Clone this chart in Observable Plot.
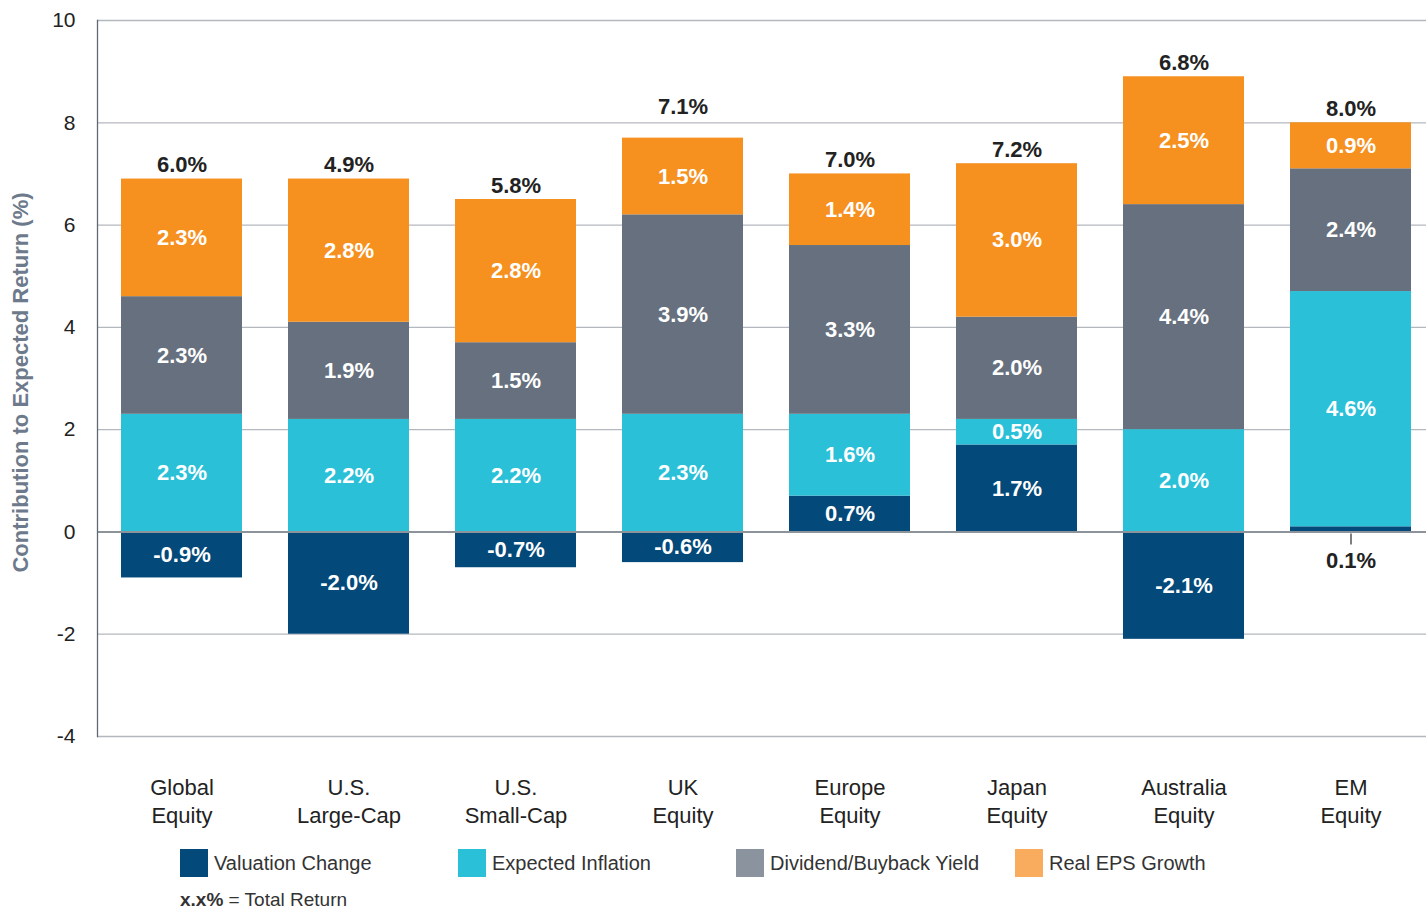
<!DOCTYPE html>
<html><head><meta charset="utf-8">
<script src="https://cdn.jsdelivr.net/npm/d3@7"></script>
<script src="https://cdn.jsdelivr.net/npm/@observablehq/plot@0.6"></script>
<style>
body{margin:0;background:#fff;font-family:"Liberation Sans",Arial,sans-serif;}
#wrap{position:relative;width:1426px;height:909px;overflow:hidden;}
.leg{position:absolute;display:flex;align-items:center;font-size:20px;color:#333;white-space:nowrap;}
.sw{width:28px;height:28px;margin-right:6px;}
</style></head><body><div id="wrap"></div>
<script>
const categories = ["Global\nEquity","U.S.\nLarge-Cap","U.S.\nSmall-Cap","UK\nEquity","Europe\nEquity","Japan\nEquity","Australia\nEquity","EM\nEquity"];
const components = ["Valuation Change","Expected Inflation","Dividend/Buyback Yield","Real EPS Growth"];
const valuationChange   = [-0.9,-2.0,-0.7,-0.6,0.7,1.7,-2.1,0.1];
const expectedInflation = [2.3,2.2,2.2,2.3,1.6,0.5,2.0,4.6];
const dividendYield     = [2.3,1.9,1.5,3.9,3.3,2.0,4.4,2.4];
const realEpsGrowth     = [2.3,2.8,2.8,1.5,1.4,3.0,2.5,0.9];
const totalReturn       = [6.0,4.9,5.8,7.1,7.0,7.2,6.8,8.0];
const yTicks = [-4,-2,0,2,4,6,8,10];
const barColors    = ["#03497a","#2ac0d8","#66707e","#f6901f"];
const legendColors = ["#03497a","#2ac0d8","#8a939e","#f9ac5e"];
const yTitle = "Contribution to Expected Return (%)";

const series = [valuationChange, expectedInflation, dividendYield, realEpsGrowth];
const rows = [];
categories.forEach((c, i) => {
  series.forEach((s, j) => rows.push({cat: c, comp: components[j], value: s[i], outside: j === 0 && Math.abs(s[i]) < 0.3}));
});
const totals = categories.map((c, i) => ({cat: c, top: d3.sum(series, s => Math.max(0, s[i])), total: totalReturn[i]}));
const outsideRows = rows.filter(d => d.outside);
const fmt = v => v.toFixed(1) + "%";
const font = '"Liberation Sans", Arial, sans-serif';
const liftedTotal = "UK\nEquity"; // the reference sets this total label higher

const chart = Plot.plot({
  width: 1426,
  height: 840,
  marginLeft: 97,
  marginRight: 0,
  marginTop: 20,
  marginBottom: 104,
  style: {fontFamily: font, fontSize: "21px", color: "#222", background: "#fff"},
  x: {domain: categories, paddingInner: 0.2767, paddingOuter: 0.1106, align: 0.62},
  y: {domain: [-4, 10]},
  color: {domain: components, range: barColors},
  marks: [
    Plot.ruleY(yTicks.filter(t => t !== 0), {stroke: "#b3b8bf", strokeWidth: 1.3}),
    Plot.barY(rows, Plot.stackY({x: "cat", y: "value", z: "comp", fill: "comp"})),
    Plot.ruleY([0], {stroke: "#8d939b", strokeWidth: 2}),
    Plot.frame({anchor: "left", stroke: "#5f6873", strokeWidth: 1.3}),
    Plot.text(rows, Plot.stackY({x: "cat", y: "value", z: "comp", text: d => d.outside ? "" : fmt(d.value), fill: "white", fontWeight: "bold", fontSize: 22})),
    Plot.ruleX(outsideRows, {x: "cat", y1: 0, y2: 0, insetTop: 2, insetBottom: -13, stroke: "#555", strokeWidth: 1.5}),
    Plot.text(outsideRows, {x: "cat", y: 0, dy: 29, text: d => fmt(d.value), fill: "#222", fontWeight: "bold", fontSize: 22}),
    Plot.text(totals.filter(d => d.cat !== liftedTotal), {x: "cat", y: "top", dy: -14, text: d => fmt(d.total), fill: "#222", fontWeight: "bold", fontSize: 22}),
    Plot.text(totals.filter(d => d.cat === liftedTotal), {x: "cat", y: "top", dy: -31, text: d => fmt(d.total), fill: "#222", fontWeight: "bold", fontSize: 22}),
    Plot.axisY({ticks: yTicks, tickSize: 0, tickPadding: 22, fontSize: 21, label: null, tickFormat: d => String(d)}),
    Plot.axisX({tickSize: 0, tickPadding: 38, fontSize: 22, lineHeight: 1.3, label: null}),
    Plot.text([yTitle], {frameAnchor: "left", textAnchor: "middle", rotate: -90, dx: -77, dy: 4, fontWeight: "bold", fontSize: 22, fill: "#6d7a8b"})
  ]
});
const wrap = document.getElementById("wrap");
wrap.appendChild(chart);

const legendX = [180, 458, 736, 1015];
components.forEach((c, j) => {
  const d = document.createElement("div");
  d.className = "leg";
  d.style.left = legendX[j] + "px";
  d.style.top = "849px";
  d.style.height = "28px";
  d.innerHTML = `<div class="sw" style="background:${legendColors[j]}"></div><span>${c}</span>`;
  wrap.appendChild(d);
});
const note = document.createElement("div");
note.className = "leg";
note.style.left = "180px";
note.style.top = "889px";
note.style.fontSize = "19px";
note.innerHTML = "<b>x.x%</b>&nbsp;= Total Return";
wrap.appendChild(note);
</script></body></html>
